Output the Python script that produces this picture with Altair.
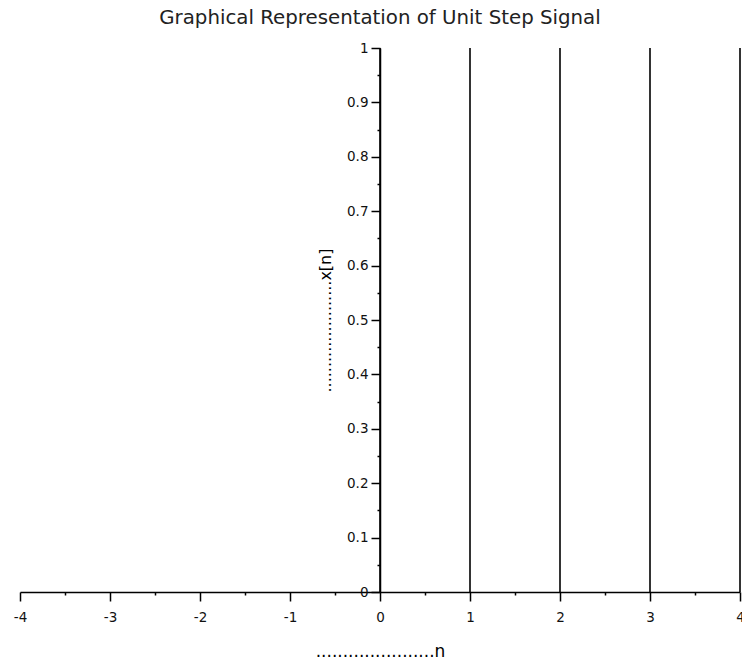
import altair as alt
import pandas as pd

# ---- data ----
n_values = [-4, -3, -2, -1, 0, 1, 2, 3, 4]
x_values = [0, 0, 0, 0, 1, 1, 1, 1, 1]

x_tick_values = [-4, -3.5, -3, -2.5, -2, -1.5, -1, -0.5, 0,
                 0.5, 1, 1.5, 2, 2.5, 3, 3.5, 4]
y_tick_values = [0, 0.05, 0.1, 0.15, 0.2, 0.25, 0.3, 0.35, 0.4, 0.45, 0.5,
                 0.55, 0.6, 0.65, 0.7, 0.75, 0.8, 0.85, 0.9, 0.95, 1]

chart_title = "Graphical Representation of Unit Step Signal"
x_label = "......................n"
y_label = "......................x[n]"

df = pd.DataFrame({"n": n_values, "x": x_values})

FONT = "DejaVu Sans"

x_axis = alt.Axis(
    values=x_tick_values,
    labelExpr="datum.value % 1 == 0 ? '' + datum.value : ''",
    tickSize={"condition": {"test": "datum.value % 1 != 0", "value": 3}, "value": 9},
    labelPadding=9,
    labelFont=FONT, labelFontSize=13.5, labelColor="#111111",
    labelOverlap=False, labelFlush=False,
    domainColor="black", domainWidth=1.5,
    tickColor="black", tickWidth=1.5,
    grid=False,
    title=x_label, titleFont=FONT, titleFontSize=17, titleFontWeight="normal",
    titleColor="black", titleY=64, titleBaseline="alphabetic",
)

y_axis = alt.Axis(
    values=y_tick_values,
    offset=-360,
    labelExpr="round(datum.value * 20) % 2 == 0 ? '' + datum.value : ''",
    tickSize={"condition": {"test": "round(datum.value * 20) % 2 == 1", "value": 3}, "value": 9},
    labelPadding=3,
    labelFont=FONT, labelFontSize=13.5, labelColor="#111111",
    labelOverlap=False, labelFlush=False,
    domainColor="black", domainWidth=1.5,
    tickColor="black", tickWidth=1.5,
    grid=False,
    title=y_label, titleFont=FONT, titleFontSize=16, titleFontWeight="normal",
    titleColor="black", titleX=-55, titleY=272, titleAngle=270,
    titleBaseline="middle", titleAlign="center",
)

chart = (
    alt.Chart(df)
    .transform_calculate(base="0")
    .mark_rule(color="black", strokeWidth=1.6)
    .encode(
        x=alt.X("n:Q", scale=alt.Scale(domain=[-4, 4], nice=False), axis=x_axis),
        y=alt.Y("base:Q", scale=alt.Scale(domain=[0, 1], nice=False), axis=y_axis),
        y2="x:Q",
    )
    .properties(
        width=720,
        height=544,
        title=alt.TitleParams(
            chart_title, font=FONT, fontSize=19.8, fontWeight="normal",
            color="#222222", anchor="middle", offset=-3,
            baseline="alphabetic", frame="group",
        ),
        autosize=alt.AutoSizeParams(type="none"),
        padding={"left": 20, "top": 48, "right": 2, "bottom": 70},
    )
    .configure(background="white")
    .configure_view(strokeWidth=0)
)

chart.save("out.html", embed_options={"renderer": "svg", "actions": False})
